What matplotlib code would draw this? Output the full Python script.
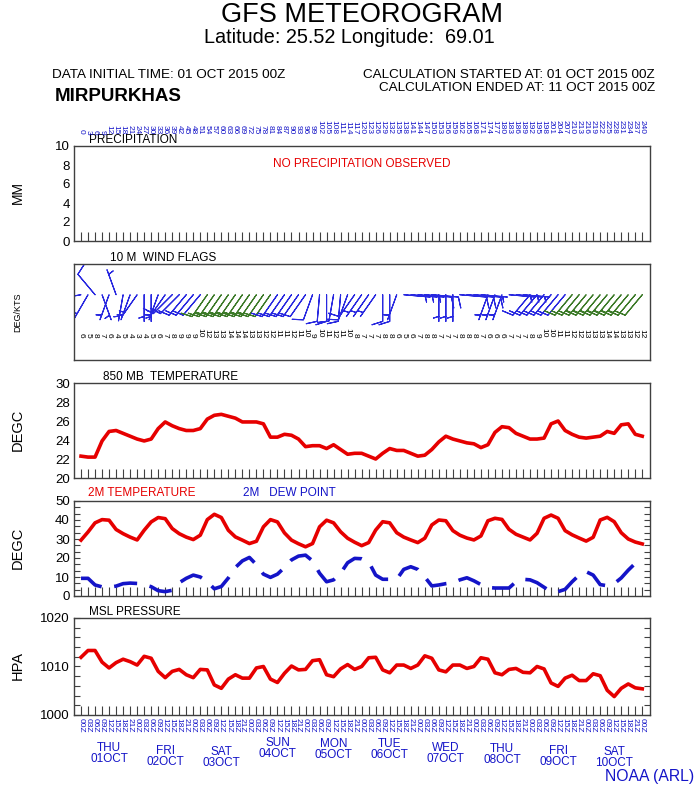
import numpy as np
import matplotlib
matplotlib.use('Agg')
import matplotlib.pyplot as plt
import matplotlib.transforms as mtrans

plt.rcParams['font.family'] = ['Liberation Sans', 'DejaVu Sans']

W, H = 695, 787

# ---------------- data ----------------
hours = list(range(0, 241, 3))

t850 = [22.3, 22.2, 22.2, 23.9, 24.9, 25.0, 24.7, 24.4, 24.1, 23.9,
        24.1, 25.2, 25.9, 25.5, 25.2, 25.0, 25.0, 25.2, 26.2, 26.6,
        26.7, 26.5, 26.3, 25.9, 25.9, 25.9, 25.7, 24.3, 24.3, 24.6,
        24.5, 24.1, 23.3, 23.4, 23.4, 23.1, 23.5, 23.0, 22.5, 22.6,
        22.6, 22.3, 22.0, 22.6, 23.1, 22.9, 22.9, 22.6, 22.3, 22.4,
        23.0, 23.8, 24.4, 24.1, 23.9, 23.7, 23.6, 23.2, 23.5, 24.8,
        25.4, 25.3, 24.7, 24.4, 24.1, 24.1, 24.2, 25.7, 26.0, 25.0,
        24.6, 24.3, 24.2, 24.3, 24.4, 24.9, 24.7, 25.6, 25.7, 24.6,
        24.4]

t2m = [29.4, 33.7, 38.5, 40.2, 39.9, 35.0, 32.8, 31.0, 29.5, 34.6,
       39.0, 41.3, 40.7, 35.5, 32.8, 31.0, 29.7, 32.0, 40.2, 43.0,
       41.3, 34.6, 31.1, 29.4, 27.6, 28.8, 36.4, 40.2, 39.0, 33.2,
       29.4, 27.5, 25.9, 27.6, 36.4, 39.9, 38.5, 33.8, 30.4, 28.3,
       26.5, 28.1, 34.7, 39.1, 38.5, 33.3, 31.0, 29.5, 28.1, 30.4,
       37.4, 40.0, 39.6, 34.4, 32.0, 30.5, 29.5, 31.6, 39.6, 40.9,
       40.3, 35.1, 32.5, 31.0, 29.5, 33.0, 40.9, 42.6, 40.9, 34.4,
       32.2, 30.5, 28.9, 30.9, 40.0, 41.4, 39.1, 33.3, 30.0, 28.4,
       27.4]

td2m = [9.3, 9.3, 5.8, 4.8, 4.6, 5.2, 6.5, 6.8, 6.6, 6.0,
        4.9, 2.8, 2.3, 3.0, 7.0, 9.3, 11.0, 10.0, 7.5, 3.8,
        5.0, 9.5, 15.0, 18.5, 20.3, 16.5, 11.5, 9.8, 11.5, 15.0,
        19.0, 21.0, 21.5, 18.5, 12.0, 7.5, 8.5, 12.0, 17.5, 19.8,
        19.6, 18.0, 11.0, 8.8, 8.8, 8.8, 14.0, 15.4, 14.0, 10.0,
        5.3, 5.8, 6.5, 7.0, 8.5, 9.6, 8.0, 6.0, 4.5, 4.2,
        4.2, 4.2, 7.5, 8.8, 8.5, 7.0, 4.6, 2.3, 2.3, 3.5,
        7.5, 11.0, 12.8, 11.0, 6.0, 5.4, 6.5, 9.5, 13.6, 17.2,
        18.5]

mslp = [1011.9, 1013.3, 1013.3, 1010.9, 1009.7, 1010.8, 1011.5, 1011.0, 1010.3, 1012.1,
        1011.7, 1009.0, 1007.7, 1009.0, 1009.4, 1008.3, 1007.7, 1009.4, 1009.3, 1006.2,
        1005.5, 1007.4, 1008.3, 1007.6, 1007.6, 1009.7, 1010.0, 1007.4, 1006.7, 1008.6,
        1010.1, 1009.3, 1009.4, 1011.2, 1011.4, 1008.3, 1007.9, 1009.5, 1010.4, 1009.4,
        1010.0, 1011.8, 1011.9, 1009.3, 1008.7, 1010.3, 1010.3, 1009.6, 1010.3, 1012.2,
        1011.7, 1009.3, 1008.9, 1010.3, 1010.3, 1009.6, 1010.0, 1011.8, 1011.5, 1008.7,
        1008.3, 1009.4, 1009.6, 1008.8, 1008.7, 1010.0, 1009.5, 1006.6, 1005.9, 1007.6,
        1008.2, 1007.1, 1007.1, 1008.5, 1008.1, 1005.1, 1003.8, 1005.5, 1006.4, 1005.6,
        1005.4]

# wind: direction the flag staff points to (deg clockwise from north), speed (kt)
wind_dir = [260, 210, 320, 160, 200, 340, 190, 200, 215, 180,
            180, 200, 215, 225, 225, 220, 220, 220, 215, 215,
            215, 215, 215, 215, 215, 215, 215, 215, 215, 215,
            215, 215, 215, 200, 185, 180, 190, 185, 200, 215,
            215, 215, 215, 180, 180, 200, 95, 95, 95, 95,
            95, 180, 180, 180, 95, 95, 95, 95, 200, 200,
            200, 95, 95, 95, 220, 220, 220, 220, 220, 220,
            220, 220, 220, 220, 220, 220, 220, 220, 220, 220,
            220]
wind_spd = [6, 5, 8, 7, 6, 4, 5, 4, 3, 4,
            5, 6, 7, 8, 9, 9, 9, 10, 12, 13,
            13, 14, 14, 14, 13, 13, 12, 12, 11, 11,
            12, 11, 10, 9, 10, 11, 12, 11, 10, 8,
            7, 7, 7, 8, 8, 6, 5, 6, 7, 8,
            8, 7, 7, 7, 8, 8, 8, 7, 6, 6,
            6, 7, 7, 7, 8, 9, 10, 10, 11, 11,
            12, 12, 13, 13, 13, 14, 14, 13, 13, 12,
            12]
wind_green = [0] * 18 + [1] * 10 + [0] * 42 + [1] * 11

day_names = ['THU', 'FRI', 'SAT', 'SUN', 'MON', 'TUE', 'WED', 'THU', 'FRI', 'SAT']
day_dates = ['01OCT', '02OCT', '03OCT', '04OCT', '05OCT', '06OCT', '07OCT', '08OCT', '09OCT', '10OCT']
utc_labels = ['%02dZ' % (h % 24) for h in hours]

# ---------------- style ----------------
RED = '#e60000'
BLUE = '#1414c8'
GREEN = '#3c7a28'
BARBBLUE = '#2828e0'
SPINE = '#404040'

fig = plt.figure(figsize=(W / 100, H / 100), dpi=100)
x = np.arange(len(hours))


def pax(top, bot):
    ax = fig.add_axes([74 / W, 1 - bot / H, 576 / W, (bot - top) / H])
    ax.set_xlim(-1, 81.1)
    for s in ax.spines.values():
        s.set_color(SPINE)
        s.set_linewidth(1.0)
    ax.set_xticks(x)
    ax.tick_params(axis='x', direction='in', length=6.5, width=0.8, color=SPINE,
                   labelbottom=False, bottom=True, top=False)
    ax.tick_params(axis='y', direction='in', length=4, width=0.8, color=SPINE,
                   labelsize=9.5, left=True, right=True, pad=3)
    return ax


def ftext(xp, yp, s, **kw):
    fig.text(xp / W, 1 - yp / H, s, **kw)


# ---------------- header ----------------
ftext(362, 22, 'GFS METEOROGRAM', fontsize=19.5, ha='center', va='baseline')
ftext(349, 43, 'Latitude: 25.52 Longitude:  69.01', fontsize=14.3, ha='center', va='baseline')
ftext(52, 78, 'DATA INITIAL TIME: 01 OCT 2015 00Z', fontsize=9.7, ha='left', va='baseline')
ftext(55, 101, 'MIRPURKHAS', fontsize=13.5, fontweight='bold', ha='left', va='baseline')
ftext(655, 78, 'CALCULATION STARTED AT: 01 OCT 2015 00Z', fontsize=9.7, ha='right', va='baseline')
ftext(655, 91, 'CALCULATION ENDED AT: 11 OCT 2015 00Z', fontsize=9.7, ha='right', va='baseline')

# ---------------- precipitation ----------------
axp = pax(146, 241)
axp.set_ylim(0, 10)
axp.set_yticks([0, 2, 4, 6, 8, 10])
axp.tick_params(axis='y', length=0)
axp.text(0.5, 0.81, 'NO PRECIPITATION OBSERVED', transform=axp.transAxes, color=RED,
         fontsize=8.5, ha='center', va='center')
axp.text(15 / 576, 1.005, 'PRECIPITATION', transform=axp.transAxes, fontsize=8.5,
         ha='left', va='bottom')
for i, h in enumerate(hours):
    axp.text(i, 1.125, str(h), transform=axp.get_xaxis_transform(), rotation=-90,
             ha='center', va='bottom', fontsize=6, color=BLUE)
ftext(18, 193, 'MM', rotation=90, fontsize=10, ha='center', va='center')

# ---------------- wind flags ----------------
axw = pax(264, 360)
axw.set_ylim(-1, 1)
axw.set_yticks([])
axw.tick_params(axis='x', bottom=False)
d = np.radians(np.array(wind_dir, dtype=float))
spd = np.array(wind_spd, dtype=float)
u = -spd * np.sin(d)
v = -spd * np.cos(d)
cols = [GREEN if g else BARBBLUE for g in wind_green]
axw.barbs(x, np.full(len(x), 0.36), u, v, barbcolor=cols, flagcolor=cols,
          length=6.2, linewidth=0.8)
for i, s in enumerate(wind_spd):
    axw.text(i, 0.23, str(s), transform=axw.get_xaxis_transform(), rotation=-90,
             ha='center', va='bottom', fontsize=6, color='black')
axw.text(36 / 576, 1.005, '10 M  WIND FLAGS', transform=axw.transAxes, fontsize=8.5,
         ha='left', va='bottom')
ftext(18, 312, 'DEG/KTS', rotation=90, fontsize=6.5, ha='center', va='center')

# ---------------- 850 mb temperature ----------------
ax8 = pax(383, 478)
ax8.set_ylim(20, 30)
ax8.set_yticks([20, 22, 24, 26, 28, 30])
ax8.tick_params(axis='y', length=0)
ax8.plot(x, t850, color=RED, lw=2.6, solid_joinstyle='round')
ax8.text(29 / 576, 1.005, '850 MB  TEMPERATURE', transform=ax8.transAxes, fontsize=8.5,
         ha='left', va='bottom')
ftext(18, 430, 'DEGC', rotation=90, fontsize=10.5, ha='center', va='center')

# ---------------- 2 m temperature / dew point ----------------
ax2 = pax(501, 596)
ax2.set_ylim(0, 50)
ax2.set_yticks([0, 10, 20, 30, 40, 50])
ax2.set_yticks(np.linspace(0, 50, 16), minor=True)
ax2.tick_params(axis='y', which='minor', direction='in', length=4, width=0.8, color=SPINE,
                left=True, right=True)
ax2.plot(x, t2m, color=RED, lw=2.6, solid_joinstyle='round')
ax2.plot(x, td2m, color=BLUE, lw=2.6, dashes=(6.5, 3.5))
ax2.text(14 / 576, 1.02, '2M TEMPERATURE', transform=ax2.transAxes, fontsize=8.5,
         ha='left', va='bottom', color=RED)
ax2.text(169 / 576, 1.02, '2M   DEW POINT', transform=ax2.transAxes, fontsize=8.5,
         ha='left', va='bottom', color=BLUE)
ftext(18, 548, 'DEGC', rotation=90, fontsize=10.5, ha='center', va='center')

# ---------------- MSL pressure ----------------
axm = pax(618, 715)
axm.set_ylim(1000, 1020)
axm.set_yticks([1000, 1010, 1020])
axm.set_yticks(np.arange(1000, 1021, 2), minor=True)
axm.tick_params(axis='y', which='minor', direction='in', length=4, width=0.8, color=SPINE,
                left=True, right=True)
axm.plot(x, mslp, color=RED, lw=2.6, solid_joinstyle='round')
axm.text(15 / 576, 1.005, 'MSL PRESSURE', transform=axm.transAxes, fontsize=8.5,
         ha='left', va='bottom')
axm.set_xticklabels(utc_labels)
axm.tick_params(axis='x', labelbottom=True, labelsize=6, labelcolor=BLUE, pad=2,
                labelrotation=-90)
for lab in axm.get_xticklabels():
    lab.set_va('top')
ftext(18, 665, 'HPA', rotation=90, fontsize=10.5, ha='center', va='center')

# day labels
day_y = [748, 751, 752, 743, 744, 744, 748, 749, 751, 752]
btr = mtrans.blended_transform_factory(axm.transData, fig.transFigure)
for k, (dn, dd) in enumerate(zip(day_names, day_dates)):
    xi = 4 + 8 * k
    axm.text(xi, 1 - day_y[k] / H, dn, transform=btr, ha='center', va='center',
             fontsize=8.5, color=BLUE)
    axm.text(xi, 1 - (day_y[k] + 11) / H, dd, transform=btr, ha='center', va='center',
             fontsize=8.5, color=BLUE)

ftext(650, 776, 'NOAA (ARL)', fontsize=11.3, ha='center', va='center', color=BLUE)

fig.savefig('out.png', dpi=100)
